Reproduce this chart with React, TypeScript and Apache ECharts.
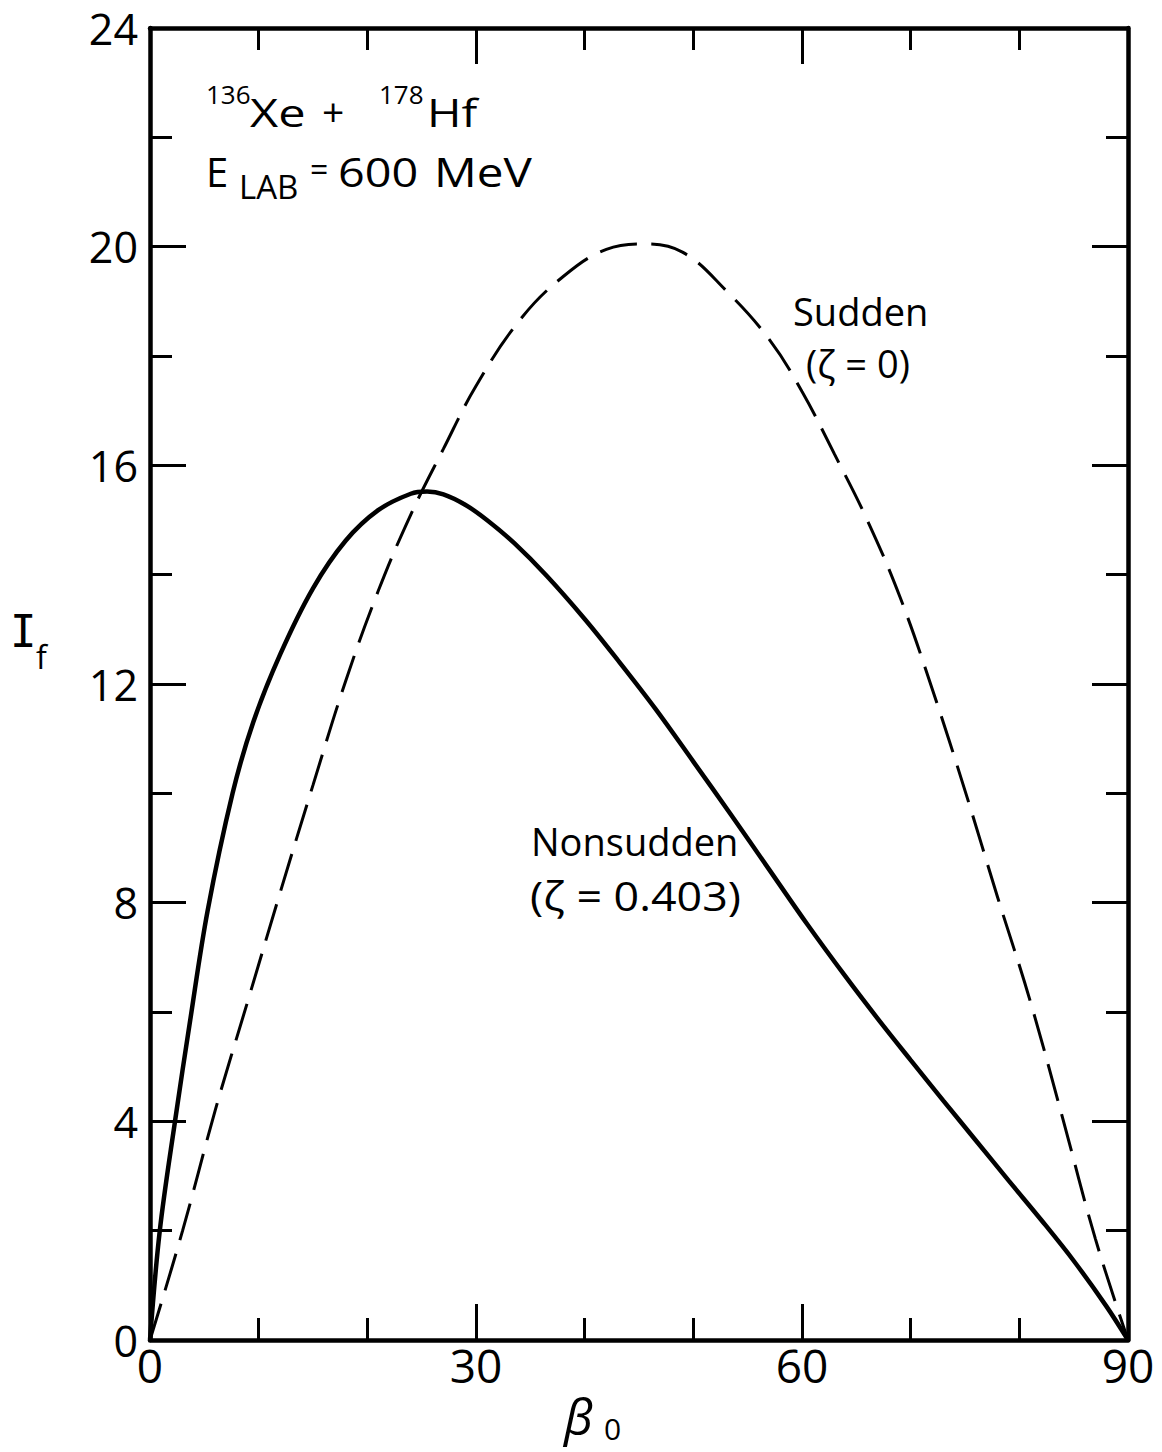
import { useEffect, useRef } from "react";
import * as echarts from "echarts";

// Nonsudden curve (zeta = 0.403): beta_0 in degrees, I_f
const betaNonsudden = [0, 0.9, 2.3, 3.7, 5.3, 7.6, 9.5, 12, 15, 18, 21, 24, 25.5, 27, 29, 31, 33.5, 36.5, 40, 43, 46.5, 50, 53.5, 57, 60.5, 64, 67, 70, 73, 76, 79, 82, 85, 88, 90];
const ifNonsudden = [0, 2.0, 4.0, 5.85, 7.85, 10.0, 11.3, 12.55, 13.75, 14.62, 15.18, 15.48, 15.52, 15.47, 15.28, 15.0, 14.58, 13.98, 13.19, 12.45, 11.55, 10.58, 9.6, 8.6, 7.6, 6.65, 5.87, 5.12, 4.38, 3.65, 2.92, 2.2, 1.45, 0.62, 0];

// Sudden curve (zeta = 0)
const betaSudden = [0, 3, 6, 9, 12, 15, 18, 21, 24, 27, 30, 34, 38, 42, 45.5, 49, 53, 57, 60, 63, 66, 69, 72, 75, 78, 81, 84, 87, 90];
const ifSudden = [0, 2.0, 4.2, 6.2, 8.2, 10.15, 12.05, 13.7, 15.1, 16.3, 17.45, 18.65, 19.45, 19.95, 20.05, 19.9, 19.2, 18.3, 17.35, 16.2, 15.0, 13.6, 11.9, 10.05, 8.1, 6.2, 4.05, 1.85, 0];

// Axis ranges and tick steps
const xRange = [0, 90];
const xStep = 30;
const yRange = [0, 24];
const yStep = 4;

const FONT = "'Open Sans', 'DejaVu Sans', sans-serif";
const INK = "#000";

function pairs(xs: number[], ys: number[]) {
  return xs.map((x, i) => [x, ys[i]]);
}

function axisCommon(showLabels: boolean, isX: boolean) {
  return {
    axisLine: { show: true, onZero: false, lineStyle: { color: INK, width: 4.5 } },
    axisTick: { show: true, inside: true, length: 36, lineStyle: { color: INK, width: 3 } },
    minorTick: { show: true, splitNumber: isX ? 3 : 2, length: 22, lineStyle: { color: INK, width: 3 } },
    splitLine: { show: false },
    minorSplitLine: { show: false },
    axisLabel: showLabels
      ? isX
        ? { show: true, color: INK, fontFamily: FONT, fontSize: 46, margin: 2 }
        : { show: true, color: INK, fontFamily: FONT, fontSize: 43, margin: 12 }
      : { show: false },
  };
}

function txt(text: string, x: number, y: number, size: number, extra: any = {}) {
  return {
    type: "text",
    x,
    y,
    scaleX: extra.sx || 1,
    silent: true,
    style: {
      text,
      fill: INK,
      font: `${extra.italic ? "italic " : ""}${size}px ${extra.family || FONT}`,
      lineHeight: size,
      align: "left",
      verticalAlign: "middle",
    },
  };
}

export default function App() {
  const ref = useRef<HTMLDivElement>(null);

  useEffect(() => {
    document.body.style.margin = "0";
    if (!ref.current) return;
    const chart = echarts.init(ref.current, null, { renderer: "svg" });
    chart.setOption({
      animation: false,
      backgroundColor: "#fff",
      grid: { left: 150, top: 28, width: 978, height: 1312, containLabel: false },
      xAxis: [
        { type: "value", position: "bottom", min: xRange[0], max: xRange[1], interval: xStep, ...axisCommon(true, true) },
        { type: "value", position: "top", min: xRange[0], max: xRange[1], interval: xStep, ...axisCommon(false, true) },
      ],
      yAxis: [
        { type: "value", position: "left", min: yRange[0], max: yRange[1], interval: yStep, ...axisCommon(true, false) },
        { type: "value", position: "right", min: yRange[0], max: yRange[1], interval: yStep, ...axisCommon(false, false) },
      ],
      series: [
        {
          name: "Sudden",
          type: "line",
          data: pairs(betaSudden, ifSudden),
          showSymbol: false,
          smooth: 0.4,
          lineStyle: { color: INK, width: 3, type: [38, 14] },
          z: 3,
        },
        {
          name: "Nonsudden",
          type: "line",
          data: pairs(betaNonsudden, ifNonsudden),
          showSymbol: false,
          smooth: 0.35,
          lineStyle: { color: INK, width: 4.5 },
          z: 4,
        },
      ],
      graphic: [
        // reaction label
        txt("136", 206, 94, 26),
        txt("Xe", 250, 112, 39, { sx: 1.25 }),
        txt("+", 322, 110, 39),
        txt("178", 379, 94, 26),
        txt("Hf", 427, 112, 39, { sx: 1.2 }),
        txt("E", 206, 171, 40),
        txt("LAB", 239, 186, 33),
        txt("=", 310, 168, 32),
        txt("600", 338, 171, 41, { sx: 1.14 }),
        txt("MeV", 434, 171, 41, { sx: 1.16 }),
        // curve labels
        txt("Sudden", 793, 311, 38),
        txt("(ζ = 0)", 806, 363, 38),
        txt("Nonsudden", 531, 841, 38),
        txt("(ζ = 0.403)", 530, 895, 40, { sx: 1.12 }),
        // axis names
        txt("I", 10, 631, 44, { family: "'DejaVu Sans Mono', monospace" }),
        txt("f", 36, 656, 32),
        txt("β", 564, 1416, 50, { italic: true }),
        txt("0", 604, 1428, 30),
      ],
    });
    return () => chart.dispose();
  }, []);

  return <div ref={ref} style={{ width: 1162, height: 1452 }} />;
}
